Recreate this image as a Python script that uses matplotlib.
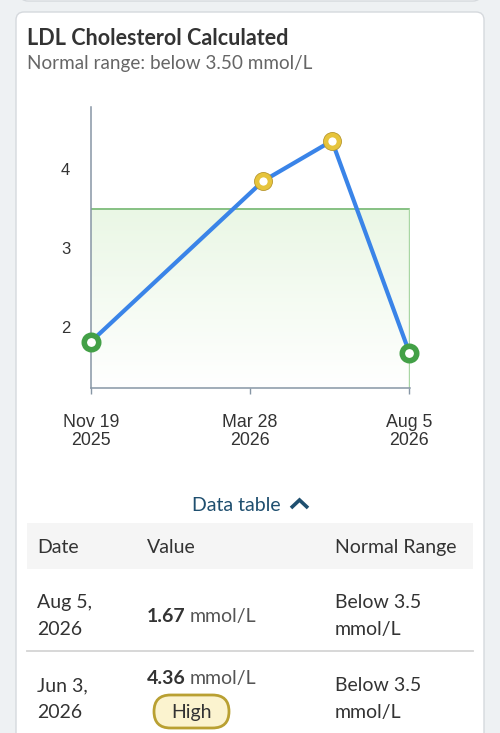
import datetime as dt
import numpy as np
import matplotlib
matplotlib.use('Agg')
import matplotlib.pyplot as plt
import matplotlib.dates as mdates
from matplotlib.patches import FancyBboxPatch, Rectangle
from matplotlib.colors import LinearSegmentedColormap

# data
dates = ['2025-11-19', '2026-04-08', '2026-06-03', '2026-08-05']
values = [1.81, 3.85, 4.36, 1.67]
flags = ['normal', 'high', 'high', 'normal']
normal_upper = 3.5
tick_dates = ['2025-11-19', '2026-03-28', '2026-08-05']
tick_labels = ['Nov 19\n2025', 'Mar 28\n2026', 'Aug 5\n2026']
y_ticks = [2, 3, 4]

table_header = ['Date', 'Value', 'Normal Range']
table_dates = ['Aug 5,\n2026', 'Jun 3,\n2026']
table_values = ['1.67', '4.36']
table_flags = ['', 'High']
table_range = ['Below 3.5\nmmol/L', 'Below 3.5\nmmol/L']

UI_FONT = ['Lato', 'DejaVu Sans']
AX_FONT = ['Liberation Sans', 'DejaVu Sans']
TXT = '#333333'
AXIS_C = '#8796a5'

fig = plt.figure(figsize=(5, 7.33), dpi=100)
fig.patch.set_facecolor('#eef1f3')

# page layer in pixel coordinates
bg = fig.add_axes([0, 0, 1, 1])
bg.set_xlim(0, 500)
bg.set_ylim(733, 0)
bg.axis('off')

# previous card edge and current card
bg.add_patch(FancyBboxPatch((20, -30), 461, 31, boxstyle='round,pad=0,rounding_size=8',
                            fc='white', ec='#d5d9dd', lw=1))
bg.add_patch(FancyBboxPatch((16, 12), 468, 760, boxstyle='round,pad=0,rounding_size=8',
                            fc='white', ec='#d5d9dd', lw=1))

bg.text(27, 45, 'LDL Cholesterol Calculated', family=UI_FONT, fontsize=15.5,
        fontweight='bold', color=TXT, va='baseline')
bg.text(27, 69, 'Normal range: below 3.50 mmol/L', family=UI_FONT, fontsize=13.6,
        color='#666666', va='baseline')

# chart
ax = fig.add_axes([91 / 500, 1 - 388 / 733, (410 - 91) / 500, (388 - 107) / 733])
ax.patch.set_alpha(0)
xd = mdates.date2num([dt.date.fromisoformat(d) for d in dates])
xt = mdates.date2num([dt.date.fromisoformat(d) for d in tick_dates])
ymin, ymax = 1.221, 4.79
ax.set_xlim(xd[0], xd[-1] + 0.5)
ax.set_ylim(ymin, ymax)

cmap = LinearSegmentedColormap.from_list('band', ['#ffffff', '#eaf7e5'])
grad = np.linspace(0, 1, 200).reshape(-1, 1)
ax.imshow(grad, cmap=cmap, origin='lower', aspect='auto',
          extent=[xd[0], xd[-1], ymin, normal_upper], zorder=0)
ax.plot([xd[0], xd[-1]], [normal_upper, normal_upper], color='#6cb36a', lw=1.1, zorder=1)
ax.plot([xd[-1], xd[-1]], [ymin, normal_upper], color='#a9d6a4', lw=1, zorder=1)

ax.plot(xd, values, color='#3a84e8', lw=3, solid_capstyle='round', zorder=3, clip_on=False)
for x, v, f in zip(xd, values, flags):
    if f == 'high':
        ax.plot(x, v, 'o', ms=13.6, mew=0, mfc='#b8972e', zorder=4, clip_on=False)
        ax.plot(x, v, 'o', ms=9.2, mew=3.2, mec='#e6c43c', mfc='white', zorder=5, clip_on=False)
    else:
        ax.plot(x, v, 'o', ms=10.4, mew=4.0, mec='#43a047', mfc='white', zorder=5, clip_on=False)

for s in ['top', 'right']:
    ax.spines[s].set_visible(False)
for s in ['left', 'bottom']:
    ax.spines[s].set_color(AXIS_C)
    ax.spines[s].set_linewidth(1.1)

ax.set_xticks(xt)
ax.set_xticklabels(tick_labels, family=AX_FONT, fontsize=12.8, color=TXT, linespacing=1.12)
ax.set_yticks(y_ticks)
ax.set_yticklabels([str(t) for t in y_ticks], family=AX_FONT, fontsize=12, color=TXT)
ax.tick_params(axis='x', length=4, width=1, color=AXIS_C, pad=14.5)
ax.tick_params(axis='y', length=0, pad=15)

# data table
bg.text(192, 510.7, 'Data table', family=UI_FONT, fontsize=14, color='#1f4f6f',
        va='baseline', ha='left')
bg.plot([291, 299.5, 308], [508, 500, 508], color='#1f4f6f', lw=2.6,
        solid_joinstyle='miter', solid_capstyle='butt')

bg.add_patch(Rectangle((27, 523), 446, 46, fc='#f5f5f5', ec='none'))
col_x = [37, 147, 335]
for cx, h in zip(col_x, table_header):
    bg.text(cx, 553.3, h, family=UI_FONT, fontsize=14, color=TXT, va='baseline')

row_base = [607.7, 691]
val_base = [621.7, 684]
for i in range(2):
    for k, line in enumerate(table_dates[i].split('\n')):
        bg.text(col_x[0], row_base[i] + 27.3 * k, line, family=UI_FONT, fontsize=14,
                color=TXT, va='baseline')
    for k, line in enumerate(table_range[i].split('\n')):
        bg.text(col_x[2], row_base[i] + 27.3 * k, line, family=UI_FONT, fontsize=14,
                color=TXT, va='baseline')
    bg.text(col_x[1], val_base[i], table_values[i], family=UI_FONT, fontsize=14,
            fontweight='bold', color=TXT, va='baseline')
    bg.text(190, val_base[i], 'mmol/L', family=UI_FONT, fontsize=14, color='#555555',
            va='baseline')
    if table_flags[i]:
        bg.add_patch(FancyBboxPatch((154, 695), 75, 33, boxstyle='round,pad=0,rounding_size=16.5',
                                    fc='#fbf3cf', ec='#b9a032', lw=2))
        bg.text(191.5, 718.3, table_flags[i], family=UI_FONT, fontsize=14, color=TXT,
                va='baseline', ha='center')

bg.plot([27, 473], [651, 651], color='#d4d4d4', lw=1.3)

fig.savefig('out.png', dpi=100)
